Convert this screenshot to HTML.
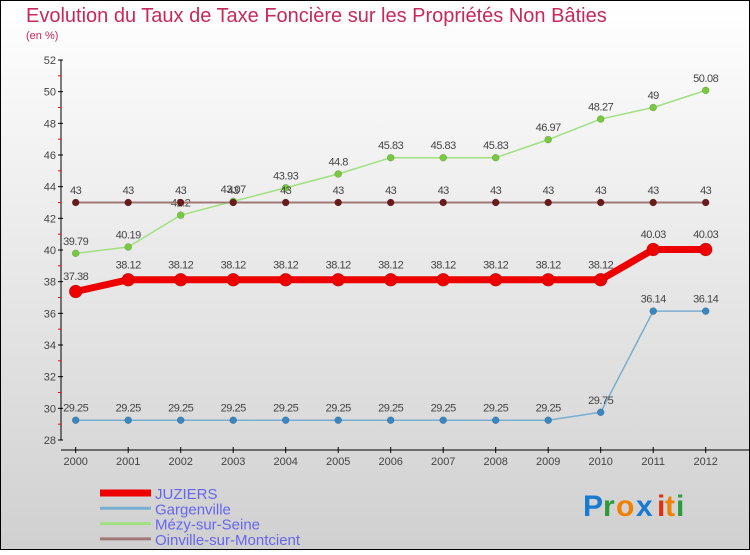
<!DOCTYPE html>
<html><head><meta charset="utf-8">
<style>
html,body{margin:0;padding:0;}
body{width:750px;height:550px;overflow:hidden;font-family:"Liberation Sans",sans-serif;}
</style></head>
<body>
<svg id="chart" width="750" height="550" xmlns="http://www.w3.org/2000/svg">
<defs>
<linearGradient id="bg" x1="0" y1="0" x2="0" y2="1">
<stop offset="0" stop-color="#ffffff"/><stop offset="1" stop-color="#d0d0d0"/>
</linearGradient>
</defs>
<rect x="0.5" y="0.5" width="749" height="549" fill="url(#bg)" stroke="#000" stroke-width="1"/>
<text x="26" y="22" font-size="20" fill="#c8285a">Evolution du Taux de Taxe Foncière sur les Propriétés Non Bâties</text>
<text x="26" y="39" font-size="11" fill="#c8285a">(en %)</text>
<g id="axes"></g>
<g id="series"></g>
<g id="legend"></g>
<g font-size="30" font-weight="bold" font-family="Liberation Sans,sans-serif">
<text x="583" y="516" fill="#1a7ad0">P</text><text x="603" y="516" fill="#2a9a3a">r</text><text x="616" y="516" fill="#f08000">o</text><text x="636" y="516" fill="#1a7ad0">x</text><text x="657" y="516" fill="#e03010">i</text><text x="665" y="516" fill="#f08000">t</text><text x="676" y="516" fill="#2a9a3a">i</text>
</g>
</svg>
<script>
const years = [2000,2001,2002,2003,2004,2005,2006,2007,2008,2009,2010,2011,2012];
const juziers = [37.38,38.12,38.12,38.12,38.12,38.12,38.12,38.12,38.12,38.12,38.12,40.03,40.03];
const gargenville = [29.25,29.25,29.25,29.25,29.25,29.25,29.25,29.25,29.25,29.25,29.75,36.14,36.14];
const mezy = [39.79,40.19,42.2,43.07,43.93,44.8,45.83,45.83,45.83,46.97,48.27,49,50.08];
const oinville = [43,43,43,43,43,43,43,43,43,43,43,43,43];
const yTicks = [28,30,32,34,36,38,40,42,44,46,48,50,52];
const seriesNames = ["JUZIERS","Gargenville","Mézy-sur-Seine","Oinville-sur-Montcient"];

const NS="http://www.w3.org/2000/svg";
const x0=75.7, x1=705.7, yMin=28, yMax=52, py0=440, py1=60;
function xs(i){return x0+(x1-x0)*i/(years.length-1);}
function ys(v){return py0-(v-yMin)/(yMax-yMin)*(py0-py1);}
function mk(tag,attrs,parent){const e=document.createElementNS(NS,tag);for(const k in attrs)e.setAttribute(k,attrs[k]);parent.appendChild(e);return e;}
function fmt(v){return String(v);}

const axes=document.getElementById('axes');
const ya=mk('line',{x1:61,y1:ys(yMax),x2:61,y2:ys(yMin),stroke:'#000','stroke-width':1},axes);


yTicks.forEach((t,i)=>{
  mk('line',{x1:58,y1:ys(t),x2:63,y2:ys(t),stroke:'#000'},axes);
  if(i<yTicks.length-1){mk('line',{x1:58,y1:ys(t+1),x2:61,y2:ys(t+1),stroke:'#f00'},axes);}
  const tx=mk('text',{x:56,y:ys(t)+4,'text-anchor':'end','font-size':11,fill:'#444'},axes);
  tx.textContent=t;
  
  
});
const xa=mk('line',{x1:61,y1:450,x2:750,y2:450,stroke:'#000','stroke-width':1},axes);


years.forEach((yr,i)=>{
  mk('line',{x1:xs(i),y1:447,x2:xs(i),y2:453,stroke:'#000'},axes);
  const tx=mk('text',{x:xs(i),y:465,'text-anchor':'middle','font-size':11,fill:'#444'},axes);
  tx.textContent=yr;
  
  
});

const ser=document.getElementById('series');
function drawSeries(vals,name,lineColor,width,ptColor,r){
  const g=mk('g',{},ser);
  
  
  const pts=vals.map((v,i)=>xs(i)+','+ys(v)).join(' ');
  mk('polyline',{points:pts,fill:'none',stroke:lineColor,'stroke-width':width,'stroke-linejoin':'round'},g);
  vals.forEach((v,i)=>{
    const c=mk('circle',{cx:xs(i),cy:ys(v),r:r,fill:ptColor,stroke:'rgba(0,0,0,0.25)','stroke-width':0.5},g);
    
    
    const t=mk('text',{x:xs(i),y:ys(v)-r-5,'text-anchor':'middle','font-size':11,fill:'#444','letter-spacing':'-0.5'},g);
    t.textContent=fmt(v);
    
    
  });
}
drawSeries(gargenville,'gargenville','#7aaed0',1.5,'#3a86c0',3.5);
drawSeries(mezy,'mezy-sur-seine','#a0e080',1.5,'#78c840',3.5);
drawSeries(oinville,'oinville-sur-montcient','#a07878',2,'#6a1a1a',3.5);
drawSeries(juziers,'juziers','#ee0000',7,'#ee0000',6.5);

const leg=document.getElementById('legend');
const legColors=['#ee0000','#7aaed0','#a0e080','#a07878'];
const legWidths=[7,3,3,3];
seriesNames.forEach((n,i)=>{
  const y=493+i*15.3;
  const l=mk('line',{x1:100,y1:y,x2:151,y2:y,stroke:legColors[i],'stroke-width':legWidths[i]},leg);
  
  
  const t=mk('text',{x:155,y:y+6,'font-size':15,fill:'#6666ee'},leg);
  t.textContent=n;
  
  
});
</script>
</body></html>
